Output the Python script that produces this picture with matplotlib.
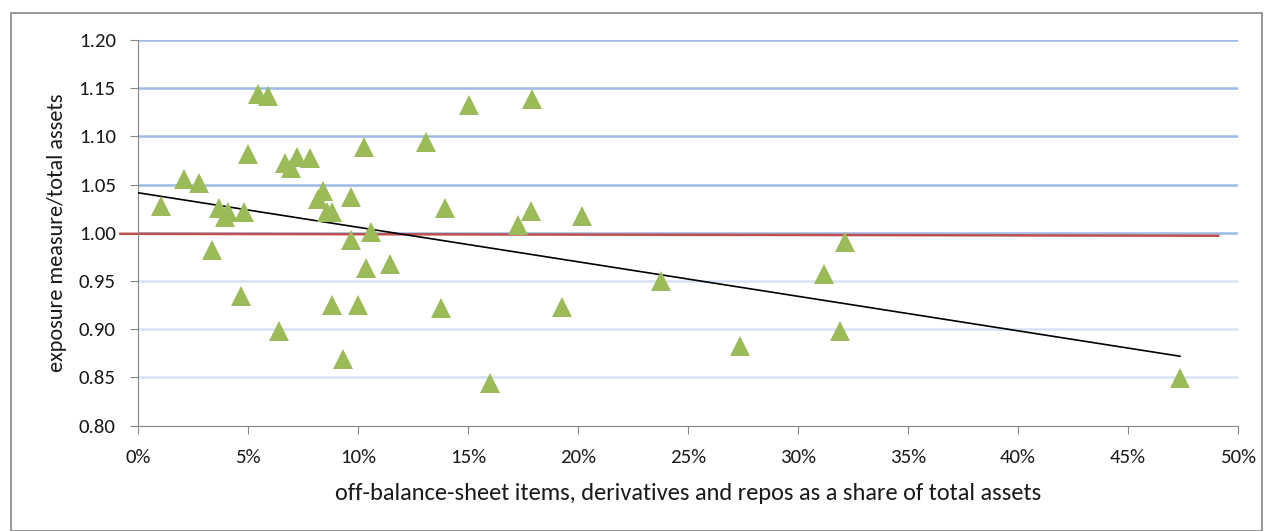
import numpy as np
import matplotlib
matplotlib.use("Agg")
import matplotlib.pyplot as plt
from matplotlib.patches import Rectangle
from matplotlib.ticker import PercentFormatter, FormatStrFormatter

plt.rcParams['font.family'] = ['Carlito', 'Lato', 'DejaVu Sans']

# off-balance-sheet share of total assets (fraction)
share = [0.0103, 0.0211, 0.0277, 0.0336, 0.0370, 0.0410, 0.0395, 0.0483,
         0.0470, 0.0500, 0.0544, 0.0592, 0.0640, 0.0668, 0.0697, 0.0724,
         0.0782, 0.0820, 0.0840, 0.0858, 0.0880, 0.0882, 0.0930, 0.0970,
         0.0970, 0.1000, 0.1026, 0.1035, 0.1059, 0.1144, 0.1309, 0.1377,
         0.1397, 0.1503, 0.1600, 0.1726, 0.1785, 0.1791, 0.1929, 0.2018,
         0.2376, 0.2738, 0.3120, 0.3190, 0.3214, 0.4736]
# exposure measure / total assets
exposure = [1.0275, 1.0555, 1.0520, 0.9822, 1.0254, 1.0220, 1.0160, 1.0220,
            0.9344, 1.0814, 1.1437, 1.1422, 0.8981, 1.0720, 1.0670, 1.0783,
            1.0773, 1.0347, 1.0434, 1.0220, 1.0220, 0.9251, 0.8688, 1.0375,
            0.9925, 0.9251, 1.0887, 0.9638, 1.0011, 0.9676, 1.0945, 0.9217,
            1.0260, 1.1326, 0.8445, 1.0084, 1.0226, 1.1385, 0.9234, 1.0177,
            0.9503, 0.8826, 0.9570, 0.8985, 0.9908, 0.8494]

# reference line at ratio = 1
ref_x = [-0.008, 0.491]
ref_y = [0.999, 0.997]

# linear trend as shown on the chart (intercept, slope)
trend_intercept = 1.0416
trend_slope = -0.358

x = np.array(share)
y = np.array(exposure)

fig = plt.figure(figsize=(12.69, 5.31), dpi=100)
ax = fig.add_axes([0.1087, 0.1983, 0.8669, 0.7264])

ax.set_ylim(0.80, 1.20)
ax.set_xlim(0, 0.5)
yticks = np.arange(0.80, 1.201, 0.05)
ax.set_yticks(yticks)
ax.set_xticks(np.arange(0, 0.501, 0.05))

# horizontal gridlines (upper ones render darker in the original)
for t in yticks[1:]:
    col = '#9db9e5' if t > 1.0 else ('#b4c8ea' if t > 0.99 else '#d6e2f4')
    ax.axhline(t, color=col, linewidth=1.8, zorder=0)

ax.plot(ref_x, ref_y, color='#c0504d', linewidth=1.8, clip_on=False, zorder=2)

tx = np.array([0, x.max()])
ax.plot(tx, trend_intercept + trend_slope * tx, color='black', linewidth=1.2, zorder=3)

ax.plot(x, y, linestyle='none', marker='^', markersize=14.5,
        color='#9bbb59', markeredgewidth=0, zorder=4)

for s in ['top', 'right']:
    ax.spines[s].set_visible(False)
for s in ['left', 'bottom']:
    ax.spines[s].set_color('#868686')
ax.tick_params(axis='both', colors='#868686', length=6, direction='out',
               labelcolor='#1a1a1a', labelsize=15)
ax.tick_params(axis='x', pad=11)
ax.tick_params(axis='y', pad=10)
ax.yaxis.set_major_formatter(FormatStrFormatter('%.2f'))
ax.xaxis.set_major_formatter(PercentFormatter(1.0, decimals=0))

ax.set_xlabel('off-balance-sheet items, derivatives and repos as a share of total assets',
              fontsize=17.6, labelpad=12, color='#1a1a1a')
ax.set_ylabel('exposure measure/total assets', fontsize=16, labelpad=8, color='#1a1a1a')

# outer chart border
fig.patches.append(Rectangle((11 / 1269, 0), 1251 / 1269, 1 - 13 / 531,
                             transform=fig.transFigure, fill=False,
                             edgecolor='#868686', linewidth=1.2))

fig.savefig('out.png', dpi=100)
